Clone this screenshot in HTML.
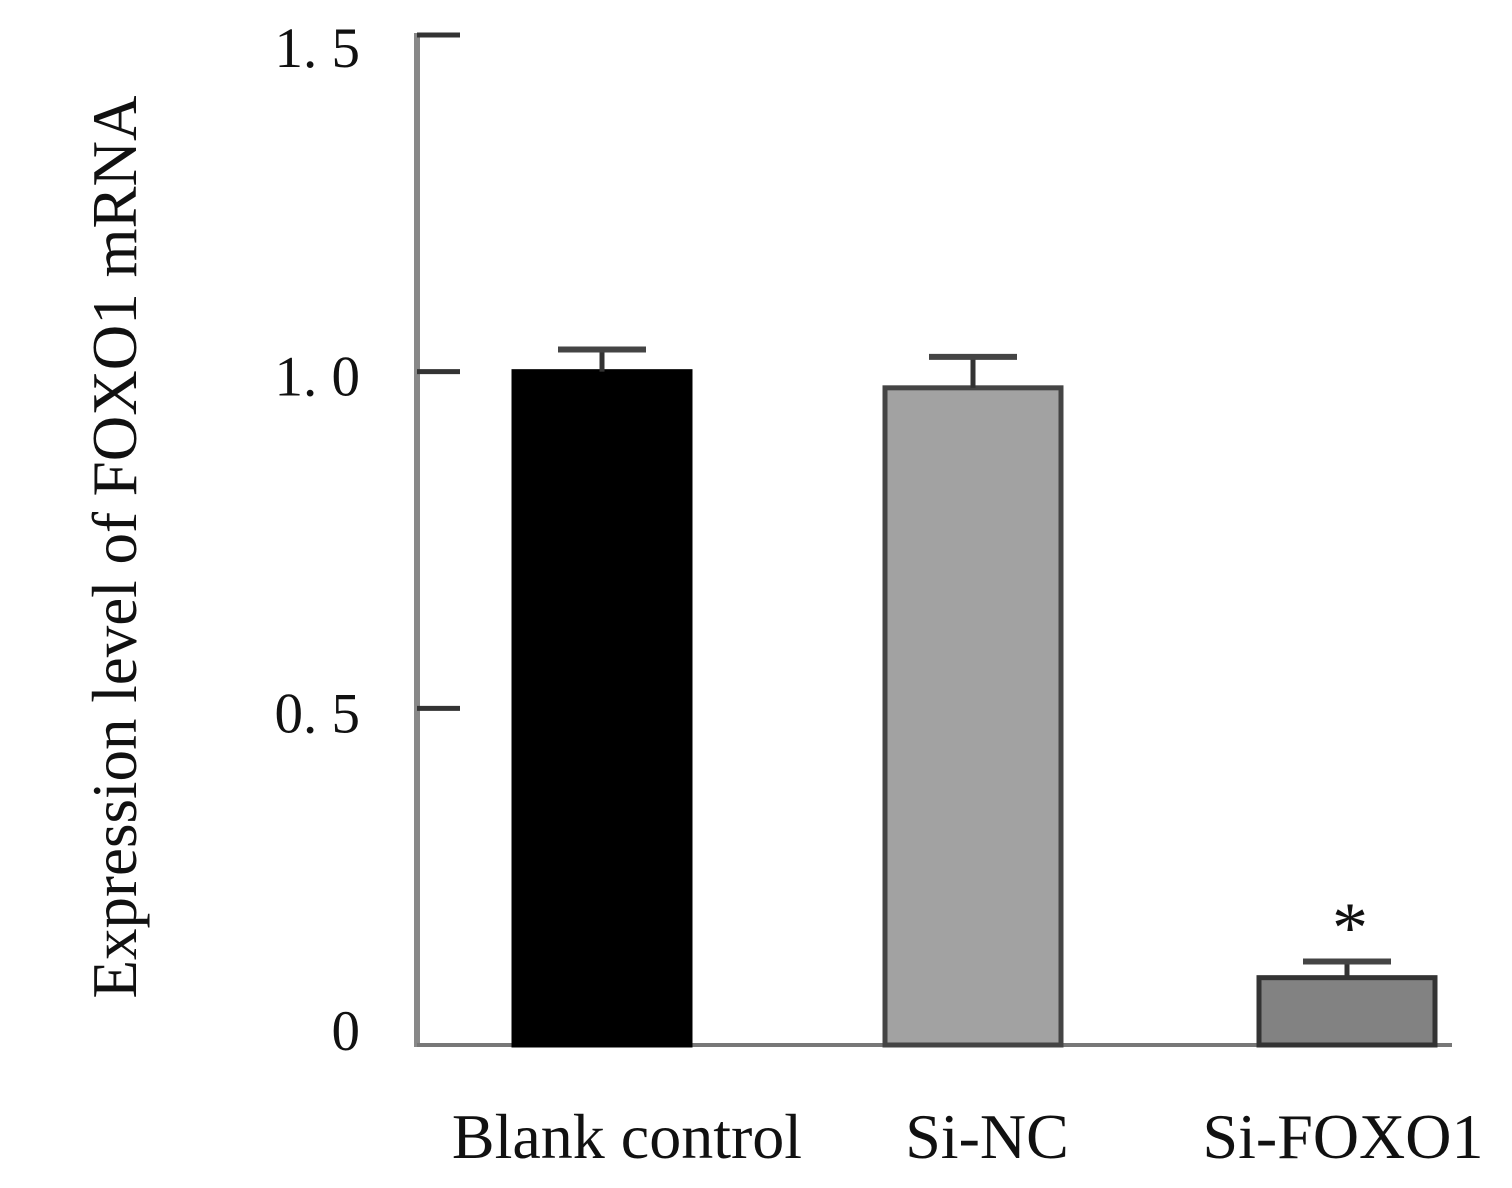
<!DOCTYPE html>
<html><head><meta charset="utf-8"><style>
body{margin:0;background:#fff;}
svg{display:block;font-family:"Liberation Serif",serif;}
</style></head><body>
<svg id="chart" width="1512" height="1188" viewBox="0 0 1512 1188"></svg>
<script>
const categories=["Blank control","Si-NC","Si-FOXO1"];
const values=[1.0,0.976,0.1];
const errors=[0.033,0.046,0.024];
const tickValues=[0,0.5,1.0,1.5];
const tickLabels=["0","0. 5","1. 0","1. 5"];
const fills=["#000","#a2a2a2","#828282"];
const strokes=["#000","#444","#333"];
const svg=document.getElementById('chart');
const NS='http://www.w3.org/2000/svg';
const y0=1045,yTop=35,axX=417;
const y=v=>y0-(v/1.5)*(y0-yTop);
const centers=[602,973,1347];
const labelCenters=[627,987,1343];
const bw=180;
function mk(t,a,p){const e=document.createElementNS(NS,t);for(const k in a)e.setAttribute(k,a[k]);(p||svg).appendChild(e);return e;}
let ax=mk('line',{x1:axX,y1:yTop-2,x2:axX,y2:y0+2,stroke:'#888','stroke-width':6});


let xa=mk('line',{x1:axX,y1:y0,x2:1452,y2:y0,stroke:'#777','stroke-width':4});


tickValues.forEach((v,i)=>{
  if(v>0){const t=mk('line',{x1:axX,y1:y(v),x2:460,y2:y(v),stroke:'#333','stroke-width':5});
  
  }
  const l=mk('text',{x:360,y:y(v)+(v===0?5:(v===1.5?32:24)),'text-anchor':'end','font-size':57,fill:'#111'});
  l.textContent=tickLabels[i];
  
  
});
categories.forEach((c,i)=>{
  const cx=centers[i],top=y(values[i]);
  const b=mk('rect',{x:cx-bw/2+2,y:top,width:bw-4,height:y0-top,fill:fills[i],stroke:strokes[i],'stroke-width':5});
  
  
  const et=y(values[i]+errors[i]);
  const e1=mk('line',{x1:cx,y1:top,x2:cx,y2:et,stroke:'#333','stroke-width':5});
  
  
  const e2=mk('line',{x1:cx-44,y1:et,x2:cx+44,y2:et,stroke:'#444','stroke-width':6});
  
  
  const lb=mk('text',{x:labelCenters[i],y:1158,'text-anchor':'middle','font-size':64,fill:'#111'});
  lb.textContent=c;
  
  
});
const st=mk('text',{x:centers[2]+3,y:952,'text-anchor':'middle','font-size':72,fill:'#111'});
st.textContent='*';


const yt=mk('text',{x:0,y:0,transform:'translate(136,547) rotate(-90)','text-anchor':'middle','font-size':63,fill:'#111'});
yt.textContent='Expression level of FOXO1 mRNA';


</script>
</body></html>
